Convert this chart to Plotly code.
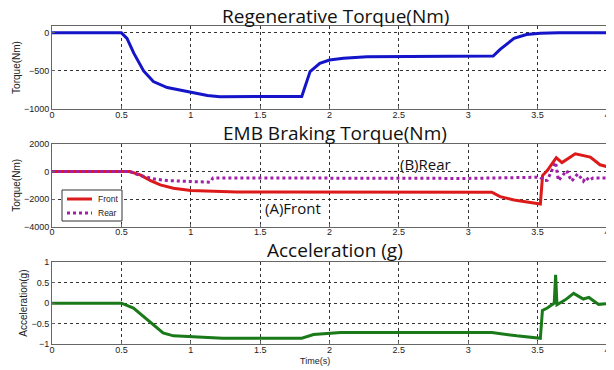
import plotly.graph_objects as go

# ---------------- data ----------------
t_regen = [0, 0.50, 0.54, 0.59, 0.66, 0.73, 0.83, 1.0, 1.12, 1.21, 1.79, 1.80, 1.86, 1.93, 2.0, 2.1, 2.27, 3.18, 3.23, 3.28, 3.33, 3.42, 3.52, 3.65, 4.0]
regen = [0, 0, -73, -270, -500, -640, -718, -783, -822, -839, -839, -835, -509, -400, -356, -335, -313, -305, -217, -140, -73, -21, -5, 0, 0]

t_front = [0, 0.56, 0.635, 0.71, 0.78, 0.875, 1.0, 1.07, 1.33, 3.17, 3.23, 3.33, 3.42, 3.52, 3.536, 3.57, 3.60, 3.635, 3.676, 3.72, 3.772, 3.88, 3.95, 4.0]
front = [0, 0, -240, -655, -970, -1210, -1380, -1400, -1480, -1500, -1820, -2060, -2200, -2350, -290, 70, 500, 1000, 650, 950, 1290, 1050, 490, 360]

t_rear = [0, 0.56, 0.635, 0.73, 0.83, 1.0, 1.14, 1.16, 1.3, 2.0, 3.0, 3.52, 3.545, 3.57, 3.63, 3.65, 3.71, 3.745, 3.79, 3.83, 3.85, 3.87, 3.9, 4.0]
rear = [0, 0, -290, -530, -655, -700, -775, -460, -460, -500, -500, -410, -655, -640, 680, -655, 73, -700, -170, -700, -410, -650, -460, -460]

t_acc = [0, 0.5, 0.587, 0.66, 0.73, 0.80, 0.875, 1.0, 1.23, 1.80, 1.885, 2.08, 3.17, 3.35, 3.52, 3.535, 3.57, 3.62, 3.63, 3.64, 3.70, 3.76, 3.83, 3.87, 3.94, 4.0]
acc = [0, 0, -0.12, -0.33, -0.55, -0.73, -0.80, -0.82, -0.86, -0.86, -0.77, -0.72, -0.72, -0.80, -0.86, -0.18, -0.12, 0.0, 0.69, -0.04, 0.08, 0.24, 0.10, 0.14, -0.03, -0.01]

x_ticks = [0, 0.5, 1, 1.5, 2, 2.5, 3, 3.5, 4]
x_ticklabels = ["0", "0.5", "1", "1.5", "2", "2.5", "3", "3.5", "4"]
y1_ticks = [0, -500, -1000]
y2_ticks = [2000, 0, -2000, -4000]
y3_ticks = [1, 0.5, 0, -0.5, -1]

titles = ["Regenerative Torque(Nm)", "EMB Braking Torque(Nm)", "Acceleration (g)"]
ytitles = ["Torque(Nm)", "Torque(Nm)", "Acceleration(g)"]
legend_names = ["Front", "Rear"]

# ---------------- styles ----------------
front_line = dict(color="#dd1a1a", width=3)
rear_line = dict(color="#a020a8", width=3, dash="dot")

# ---------------- figure ----------------
fig = go.Figure()
fig.add_trace(go.Scatter(x=t_regen, y=regen, mode="lines", line=dict(color="#1414c8", width=3),
                         showlegend=False, xaxis="x", yaxis="y"))
fig.add_trace(go.Scatter(x=t_front, y=front, mode="lines", name=legend_names[0],
                         line=front_line, showlegend=False, xaxis="x2", yaxis="y2"))
fig.add_trace(go.Scatter(x=t_rear, y=rear, mode="lines", name=legend_names[1],
                         line=rear_line, showlegend=False, xaxis="x2", yaxis="y2"))
fig.add_trace(go.Scatter(x=t_acc, y=acc, mode="lines", line=dict(color="#1a7a1a", width=3),
                         showlegend=False, xaxis="x3", yaxis="y3"))

tickfont = dict(family="Liberation Sans, Arial", size=9, color="#222")
common_x = dict(range=[-0.0005, 4.0005], tickvals=x_ticks, ticktext=x_ticklabels, showgrid=True,
                gridcolor="#333", griddash="dot", gridwidth=1, showline=True, mirror=True,
                linecolor="#666", linewidth=1, ticks="inside", ticklen=3, tickcolor="#666",
                tickfont=tickfont, zeroline=False, automargin=False, ticklabelstandoff=-3)
common_y = dict(showgrid=True, gridcolor="#333", griddash="dot", gridwidth=1, showline=True,
                mirror=True, linecolor="#666", linewidth=1, ticks="inside", ticklen=3,
                tickcolor="#666", tickfont=tickfont, zeroline=False, automargin=False)
ytfont = dict(family="Liberation Sans, Arial", size=10, color="#222")

doms = [[0.739, 1.0], [0.369, 0.629], [0.0, 0.257]]
fig.update_layout(
    width=606, height=362,
    margin=dict(l=44, r=7, t=18, b=26, autoexpand=False),
    paper_bgcolor="white", plot_bgcolor="white",
    xaxis=dict(common_x, domain=[0, 1], anchor="y"),
    xaxis2=dict(common_x, domain=[0, 1], anchor="y2"),
    xaxis3=dict(common_x, domain=[0, 1], anchor="y3"),
    yaxis=dict(common_y, domain=doms[0], range=[-1000, 90], tickvals=y1_ticks, anchor="x",
               title=dict(text=ytitles[0], font=ytfont, standoff=1)),
    yaxis2=dict(common_y, domain=doms[1], range=[-4000, 2000], tickvals=y2_ticks, anchor="x2",
                title=dict(text=ytitles[1], font=ytfont, standoff=1)),
    yaxis3=dict(common_y, domain=doms[2], range=[-1, 1], tickvals=y3_ticks, anchor="x3",
                title=dict(text=ytitles[2], font=ytfont, standoff=1)),
    showlegend=False,
)

title_y = [1.0 + 10 / 318, 0.629 + 11 / 318, 0.257 + 12 / 318]
for txt, yy in zip(titles, title_y):
    fig.add_annotation(text=txt, x=0.51, y=yy, xref="paper", yref="paper", showarrow=False,
                       font=dict(family="Open Sans, Noto Sans", size=19, color="#111"),
                       xanchor="center", yanchor="middle", borderpad=0)

fig.add_annotation(text="(B)Rear", x=2.69, y=580, xref="x2", yref="y2", showarrow=False,
                   font=dict(family="Open Sans, Noto Sans", size=15, color="#111"))
fig.add_annotation(text="(A)Front", x=1.74, y=-2620, xref="x2", yref="y2", showarrow=False,
                   font=dict(family="Open Sans, Noto Sans", size=15, color="#111"))
fig.add_annotation(text="Time(s)", x=(315 - 52) / 555, y=-10 / 318, xref="paper", yref="paper",
                   showarrow=False, yanchor="top",
                   font=dict(family="Liberation Sans, Arial", size=9, color="#222"))

# ---------------- legend box (drawn as in the MATLAB figure) ----------------
def px(xp):
    return (xp - 52) / 555

def py(yp):
    return (344 - yp) / 318

fig.add_shape(type="rect", xref="paper", yref="paper", x0=px(62), x1=px(122), y0=py(221), y1=py(190),
              line=dict(color="#333", width=1), fillcolor="white", layer="above")
for name, style, yy in zip(legend_names, [front_line, rear_line], [199, 213]):
    fig.add_shape(type="line", xref="paper", yref="paper", x0=px(67), x1=px(92), y0=py(yy), y1=py(yy),
                  line=style, layer="above")
    fig.add_annotation(text=name, x=px(96), y=py(yy), xref="paper", yref="paper", showarrow=False,
                       xanchor="left", yanchor="middle",
                       font=dict(family="Liberation Sans, Arial", size=8.5, color="#222"))

fig.write_html("out.html")
